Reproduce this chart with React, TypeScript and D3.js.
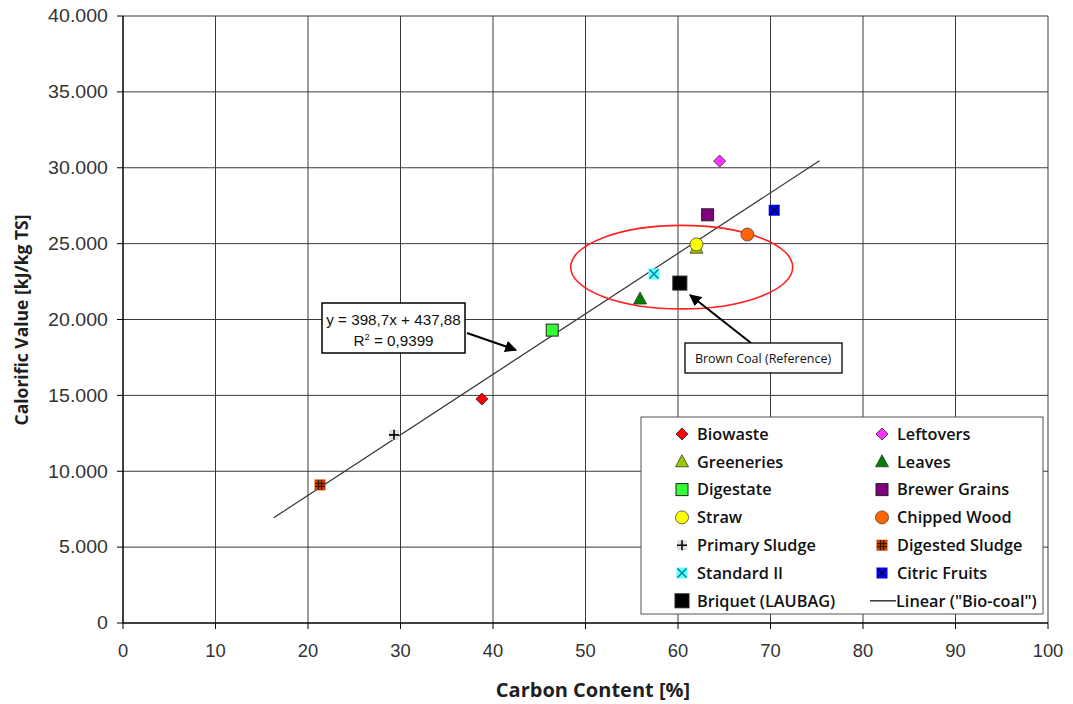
import React from "react";
import * as d3 from "d3";

const seriesNames = ["Biowaste","Leftovers","Greeneries","Leaves","Digestate","Brewer Grains","Straw","Chipped Wood","Primary Sludge","Digested Sludge","Standard II","Citric Fruits","Briquet (LAUBAG)"];
const carbonContent = [38.8, 64.5, 62.0, 55.9, 46.4, 63.2, 62.0, 67.5, 29.3, 21.3, 57.4, 70.4, 60.2];
const calorificValue = [14760, 30440, 24700, 21350, 19300, 26900, 24950, 25600, 12400, 9100, 23000, 27200, 22400];
const markerTypes = ["diamond","diamond","triangle","triangle","square","square","circle","circle","plus","hash","x","xsquare","bigsquare"];
const markerFills = ["#ff0000","#ff33ff","#99cc00","#008000","#33ff33","#800080","#ffff00","#ff6600","#cccccc","#cc4400","#66ffff","#0000ff","#000000"];
const xTicks = [0,10,20,30,40,50,60,70,80,90,100];
const yTicks = [0,5000,10000,15000,20000,25000,30000,35000,40000];
const trendSlope = 398.7;
const trendIntercept = 437.88;
const trendRange = [16.3, 75.3];
const legendOrder = ["Biowaste","Leftovers","Greeneries","Leaves","Digestate","Brewer Grains","Straw","Chipped Wood","Primary Sludge","Digested Sludge","Standard II","Citric Fruits","Briquet (LAUBAG)","Linear (\"Bio-coal\")"];

const W = 1073, H = 704;
const x = d3.scaleLinear().domain([0, 100]).range([123, 1048]);
const y = d3.scaleLinear().domain([0, 40000]).range([623, 16]);

const fmtY = (v: number) => v === 0 ? "0" : d3.format(",")(v).replace(/,/g, ".");

function Marker({ type, fill, cx, cy }: { type: string; fill: string; cx: number; cy: number }) {
  const s = "#000";
  switch (type) {
    case "diamond":
      return <path d={`M${cx},${cy - 6}L${cx + 6},${cy}L${cx},${cy + 6}L${cx - 6},${cy}Z`} fill={fill} stroke="#222" strokeWidth={0.8} />;
    case "triangle":
      return <path d={`M${cx},${cy - 7}L${cx + 6.5},${cy + 5}L${cx - 6.5},${cy + 5}Z`} fill={fill} stroke="#333" strokeWidth={0.8} />;
    case "square":
      return <rect x={cx - 6} y={cy - 6} width={12} height={12} fill={fill} stroke="#222" strokeWidth={1} />;
    case "bigsquare":
      return <rect x={cx - 7} y={cy - 7} width={14} height={14} fill={fill} stroke="#222" strokeWidth={1} />;
    case "circle":
      return <circle cx={cx} cy={cy} r={6.5} fill={fill} stroke="#444" strokeWidth={0.8} />;
    case "plus":
      return <g>
        <rect x={cx - 5} y={cy - 5} width={10} height={10} fill="#e0e0e0" />
        <path d={`M${cx - 5},${cy}H${cx + 5}M${cx},${cy - 5}V${cy + 5}`} stroke={s} strokeWidth={1.6} />
      </g>;
    case "hash":
      return <g>
        <rect x={cx - 5.5} y={cy - 5.5} width={11} height={11} fill={fill} />
        <path d={`M${cx - 5},${cy - 1.5}H${cx + 5}M${cx - 5},${cy + 1.5}H${cx + 5}M${cx - 1.5},${cy - 5}V${cy + 5}M${cx + 1.5},${cy - 5}V${cy + 5}`} stroke="#3a1400" strokeWidth={1.2} />
      </g>;
    case "x":
      return <g>
        <rect x={cx - 5.5} y={cy - 5.5} width={11} height={11} fill={fill} />
        <path d={`M${cx - 4.5},${cy - 4.5}L${cx + 4.5},${cy + 4.5}M${cx + 4.5},${cy - 4.5}L${cx - 4.5},${cy + 4.5}`} stroke="#0088aa" strokeWidth={1.6} />
      </g>;
    case "xsquare":
      return <g>
        <rect x={cx - 5.5} y={cy - 5.5} width={11} height={11} fill={fill} />
        <path d={`M${cx - 4.5},${cy - 4.5}L${cx + 4.5},${cy + 4.5}M${cx + 4.5},${cy - 4.5}L${cx - 4.5},${cy + 4.5}`} stroke="#000033" strokeWidth={1.3} />
      </g>;
  }
  return null;
}

export default function App() {
  const line = d3.line<number>().x(d => x(d)).y(d => y(trendSlope * d + trendIntercept));
  const labelFont = "Liberation Sans, Arial, sans-serif";
  const calFont = "'Open Sans', Lato, sans-serif";
  const rowY = (i: number) => 434 + i * 27.8;
  return (
    <svg width={W} height={H} style={{ position: "absolute", left: 0, top: 0, background: "#fff" }}>
      <defs>
        <marker id="arr" viewBox="0 0 10 10" refX={9} refY={5} markerWidth={6} markerHeight={6} orient="auto">
          <path d="M0,0L10,5L0,10Z" fill="#000" />
        </marker>
      </defs>
      <rect width={W} height={H} fill="#fff" />
      {/* grid */}
      {xTicks.slice(1).map(t => <line key={"gx" + t} x1={x(t)} x2={x(t)} y1={y(0)} y2={y(40000)} stroke="#3a3a3a" strokeWidth={1} />)}
      {yTicks.slice(1).map(t => <line key={"gy" + t} x1={x(0)} x2={x(100)} y1={y(t)} y2={y(t)} stroke="#3a3a3a" strokeWidth={1} />)}
      {/* axes */}
      <line x1={x(0)} x2={x(0)} y1={y(0)} y2={y(40000)} stroke="#000" strokeWidth={1.5} />
      <line x1={x(0)} x2={x(100)} y1={y(0)} y2={y(0)} stroke="#000" strokeWidth={1.5} />
      {yTicks.map(t => <g key={"ty" + t}>
        <line x1={x(0) - 6} x2={x(0)} y1={y(t)} y2={y(t)} stroke="#000" />
        <text transform={`translate(${x(0) - 15},${y(t)}) scale(1.12,1)`} dy="0.36em" textAnchor="end" fontFamily={labelFont} fontSize={17.5} fill="#333">{fmtY(t)}</text>
      </g>)}
      {xTicks.map(t => <g key={"tx" + t}>
        <line x1={x(t)} x2={x(t)} y1={y(0)} y2={y(0) + 6} stroke="#000" />
        <text transform={`translate(${x(t)},${y(0) + 28}) scale(1.05,1)`} dy="0.36em" textAnchor="middle" fontFamily={labelFont} fontSize={17.5} fill="#333">{t}</text>
      </g>)}
      <text x={593} y={697} textAnchor="middle" fontFamily={calFont} fontWeight={700} fontSize={20} fill="#1f1f1f">Carbon Content [%]</text>
      <text transform="translate(28,320) rotate(-90)" textAnchor="middle" fontFamily={calFont} fontWeight={700} fontSize={17.5} fill="#1f1f1f">Calorific Value [kJ/kg TS]</text>
      {/* trend line */}
      <path d={line(trendRange) || ""} fill="none" stroke="#333" strokeWidth={1.2} />
      {/* ellipse */}
      <ellipse cx={x(60.4)} cy={y(23450)} rx={x(72.4) - x(60.4)} ry={y(23450) - y(26200)} fill="none" stroke="#ff2020" strokeWidth={1.6} />
      {/* points */}
      {seriesNames.map((n, i) => <Marker key={n} type={markerTypes[i]} fill={markerFills[i]} cx={x(carbonContent[i])} cy={y(calorificValue[i])} />)}
      {/* equation box */}
      <rect x={322} y={303} width={143} height={50} fill="#fff" stroke="#000" strokeWidth={1.5} />
      <text transform="translate(393.5,325) scale(1.05,1)" textAnchor="middle" fontFamily={labelFont} fontSize={14.5} fill="#111">y = 398,7x + 437,88</text>
      <text transform="translate(393.5,346) scale(1.05,1)" textAnchor="middle" fontFamily={labelFont} fontSize={14.5} fill="#111">R<tspan dy={-6} fontSize={9}>2</tspan><tspan dy={6}> = 0,9399</tspan></text>
      <line x1={467} y1={333} x2={516} y2={350} stroke="#000" strokeWidth={2} markerEnd="url(#arr)" />
      {/* brown coal box */}
      <line x1={751} y1={343} x2={690} y2={295} stroke="#000" strokeWidth={2} markerEnd="url(#arr)" />
      <rect x={685} y={343} width={157} height={30} fill="#fff" stroke="#000" strokeWidth={1.3} />
      <text x={763} y={362.5} textAnchor="middle" fontFamily={calFont} fontSize={12.5} fill="#111">Brown Coal (Reference)</text>
      {/* legend */}
      <rect x={641} y={417} width={402} height={197} fill="#fff" stroke="#555" strokeWidth={1} />
      <clipPath id="lgclip"><rect x={641} y={417} width={402} height={197} /></clipPath>
      <g clipPath="url(#lgclip)">
        {legendOrder.map((n, k) => {
          const col = k % 2, row = Math.floor(k / 2);
          const mx = col === 0 ? 682 : 882;
          const tx = col === 0 ? 697 : 897;
          const cy = rowY(row);
          const idx = seriesNames.indexOf(n);
          return <g key={"lg" + n}>
            {idx >= 0 ? <Marker type={markerTypes[idx]} fill={markerFills[idx]} cx={mx} cy={cy} /> :
              <line x1={870} x2={896} y1={cy} y2={cy} stroke="#333" strokeWidth={1.5} />}
            <text x={idx >= 0 ? tx : 896} y={cy} dy="0.35em" fontFamily={calFont} fontWeight={600} fontSize={16.3} fill="#111">{n}</text>
          </g>;
        })}
      </g>
    </svg>
  );
}
